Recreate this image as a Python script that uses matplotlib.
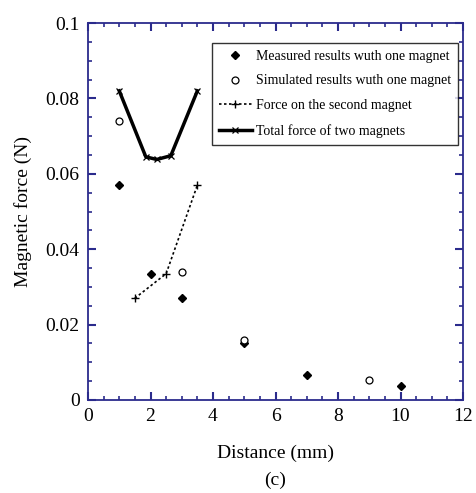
import numpy as np
import matplotlib
matplotlib.use("Agg")
import matplotlib.pyplot as plt
from matplotlib.ticker import MultipleLocator

plt.rcParams['font.family'] = ['Liberation Serif', 'DejaVu Serif']
plt.rcParams['mathtext.fontset'] = 'stix'

# measured / simulated forces with one magnet
meas_x = [1, 2, 3, 5, 7, 10]
meas_y = [0.057, 0.0335, 0.027, 0.015, 0.0065, 0.0037]
sim_x = [1, 3, 5, 9]
sim_y = [0.074, 0.034, 0.016, 0.0053]
# force on second magnet
second_x = [1.5, 2.5, 3.5]
second_y = [0.027, 0.0335, 0.057]
# total force of two magnets
total_x = [1.0, 1.85, 2.2, 2.65, 3.5]
total_y = [0.082, 0.0645, 0.0638, 0.0648, 0.082]

axcol = '#2b2b8c'

fig = plt.figure(figsize=(4.76, 4.93), dpi=100)
ax = fig.add_axes([88/476, 1-400/493, 375/476, 377/493])

ax.plot(meas_x, meas_y, linestyle='none', marker='D', markersize=4,
        color='black', label='Measured results wuth one magnet')
ax.plot(sim_x, sim_y, linestyle='none', marker='o', markersize=5,
        markerfacecolor='white', markeredgecolor='black', markeredgewidth=0.9,
        label='Simulated results wuth one magnet')
ax.plot(second_x, second_y, linestyle=(0, (1.5, 1.5)), linewidth=1.2,
        marker='+', markersize=6, color='black',
        label='Force on the second magnet')
ax.plot(total_x, total_y, linestyle='-', linewidth=2.5, marker='x',
        markersize=5, markeredgewidth=0.9, color='black',
        label='Total force of two magnets')

ax.set_xlim(0, 12)
ax.set_ylim(0, 0.1)
ax.xaxis.set_minor_locator(MultipleLocator(0.5))
ax.yaxis.set_minor_locator(MultipleLocator(0.005))
ax.set_yticks([0, 0.02, 0.04, 0.06, 0.08, 0.1])
ax.set_yticklabels(['0', '0.02', '0.04', '0.06', '0.08', '0.1'])
ax.set_xticks([0, 2, 4, 6, 8, 10, 12])
ax.set_xticklabels(['0', '2', '4', '6', '8', '10', '12'])

for s in ax.spines.values():
    s.set_color(axcol)
    s.set_linewidth(1.3)
ax.tick_params(which='both', direction='in', top=True, right=True,
               color=axcol, labelsize=14, pad=6)
ax.tick_params(which='major', length=6, width=1.5)
ax.tick_params(which='minor', length=3, width=1.2)

ax.set_xlabel('Distance (mm)', fontsize=14, labelpad=14)
ax.set_ylabel('Magnetic force (N)', fontsize=14, labelpad=10)

leg = ax.legend(loc='upper right', bbox_to_anchor=(0.995, 0.955), fontsize=10,
                frameon=True, fancybox=False, edgecolor='black',
                handlelength=2.4, handletextpad=0.3, borderpad=0.5,
                labelspacing=0.85, borderaxespad=0.2)
leg.get_frame().set_linewidth(1.0)

fig.text(0.5*(88+463)/476, 1-480/493, '(c)', ha='center', va='center', fontsize=14)

fig.savefig('out.png', dpi=100)
